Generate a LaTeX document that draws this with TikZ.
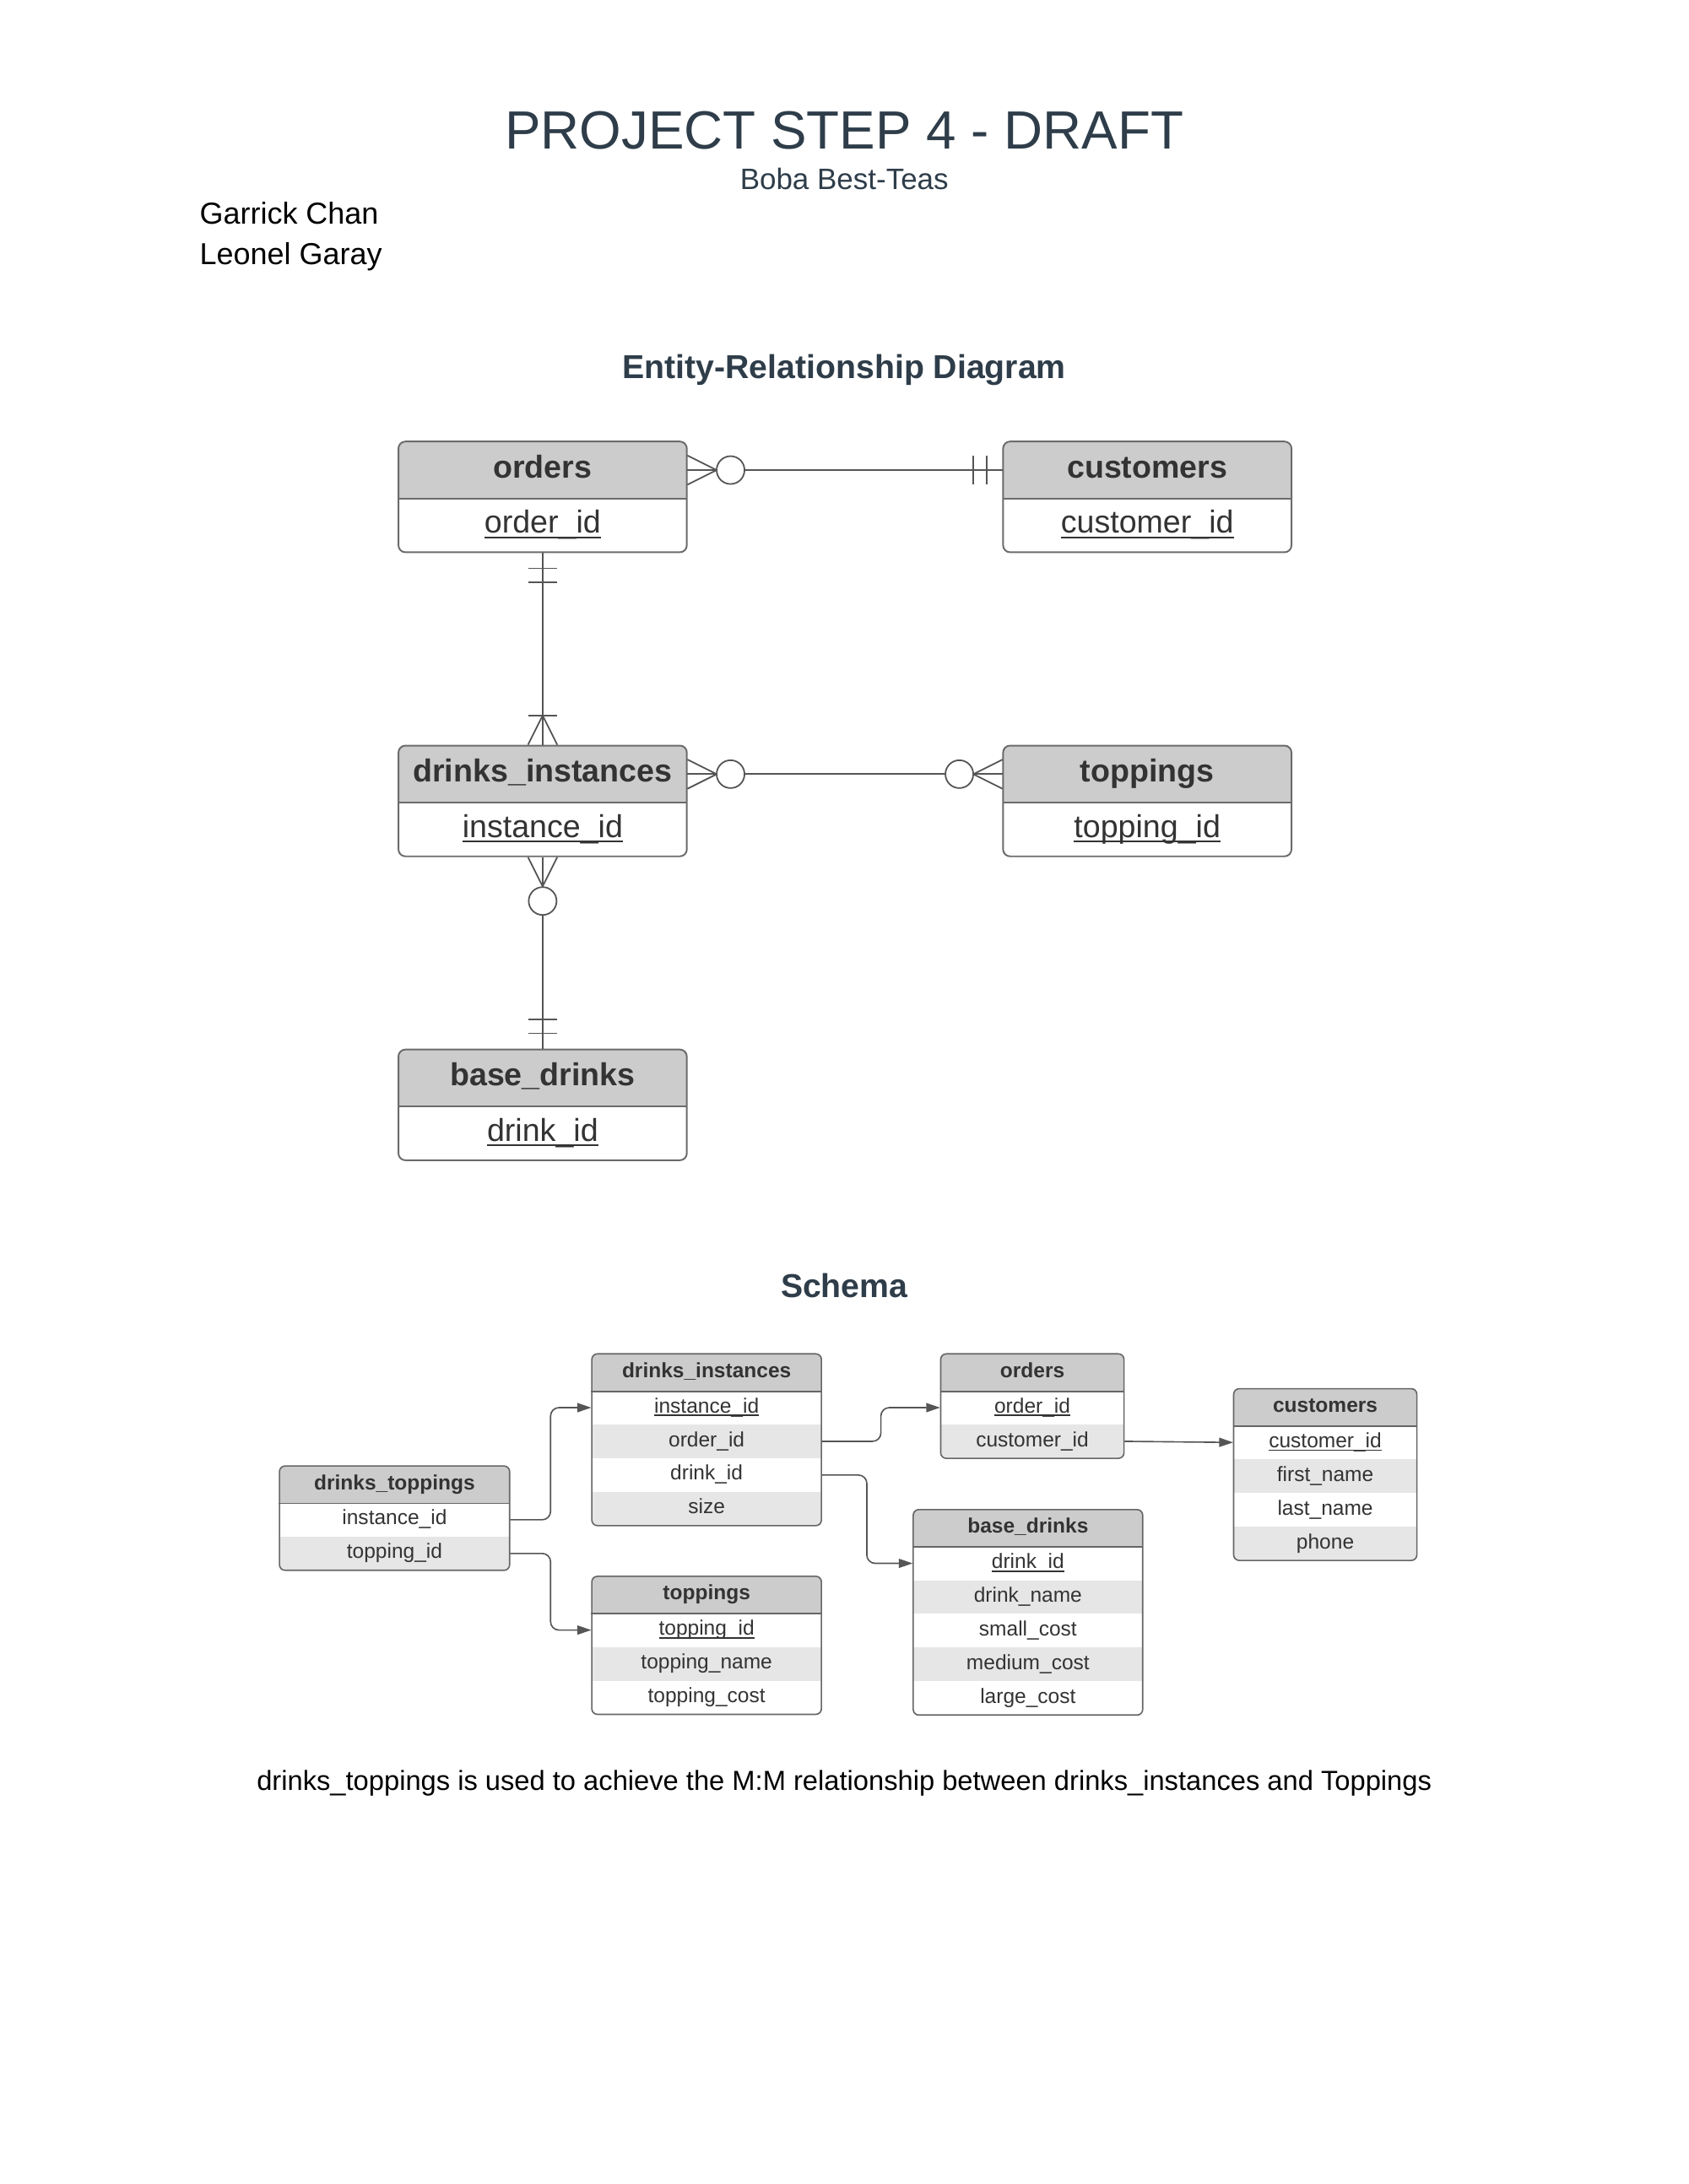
\documentclass[tikz,border=0pt]{standalone}
\usepackage{fontspec}
\setmainfont{Liberation Sans}
\usetikzlibrary{arrows.meta}
\newlength{\pxu}\setlength{\pxu}{0.50495pt}
\definecolor{titlecol}{HTML}{2E3D49}
\definecolor{hdrfill}{HTML}{CCCCCC}
\definecolor{altfill}{HTML}{E6E6E6}
\definecolor{erline}{HTML}{6B6B6B}
\definecolor{tblline}{HTML}{666666}
\definecolor{txtcol}{HTML}{333333}
\definecolor{conncol}{HTML}{555555}
\newcommand{\ulkey}[1]{\setbox0=\hbox{#1}\rlap{\raisebox{-0.16em}{\rule{\wd0}{0.065em}}}\box0}
\tikzset{
  erbox/.style={draw=erline, line width=0.6pt, rounded corners=5\pxu,
    minimum width=207\pxu, minimum height=79.5\pxu, inner sep=0pt,
    path picture={
      \fill[hdrfill, draw=none, sharp corners] (path picture bounding box.north west) rectangle ([yshift=-41\pxu]path picture bounding box.north east);
      \draw[erline, line width=0.6pt, sharp corners] ([yshift=-41\pxu]path picture bounding box.north west) -- ([yshift=-41\pxu]path picture bounding box.north east);}},
  erhead/.style={minimum width=207\pxu, minimum height=41\pxu, inner sep=0pt, text=txtcol,
    font=\fontsize{11.5}{13}\selectfont\bfseries, text height=8.6pt, text depth=2.9pt},
  erkey/.style={inner sep=0pt, text=txtcol,
    font=\fontsize{11.5}{13}\selectfont, text height=8.6pt, text depth=2.9pt},
  erconn/.style={draw=conncol, line width=0.55pt},
  trow/.style={inner sep=0pt, minimum height=24.2\pxu, text=txtcol,
    font=\fontsize{7.5}{9}\selectfont, text height=5.6pt, text depth=1.9pt},
  thead/.style={trow, minimum height=26.5\pxu, fill=hdrfill, font=\fontsize{7.5}{9}\selectfont\bfseries},
  tframe/.style={draw=tblline, line width=0.5pt, rounded corners=4\pxu},
  sarrow/.style={draw=conncol, line width=0.5pt, rounded corners=6\pxu, -{Triangle[length=5.05pt, width=3.3pt]}},
  plain/.style={inner sep=0pt}
}
\begin{document}
\begin{tikzpicture}[x=\pxu, y=-\pxu]
\fill[white] (0,0) rectangle (1212,1568);
\useasboundingbox (0,0) rectangle (1212,1568);

% ---------- titles ----------
\node[plain, anchor=base, text=titlecol, font=\fontsize{19.5}{22}\selectfont] (title) at (606,107) {PROJECT STEP 4 - DRAFT};
\node[plain, anchor=base, text=titlecol, font=\fontsize{10.7}{12}\selectfont] (subtitle) at (606,135.8) {Boba Best-Teas};
\node[plain, anchor=base west, font=\fontsize{11}{13}\selectfont] (author1) at (143,161) {Garrick Chan};
\node[plain, anchor=base west, font=\fontsize{11}{13}\selectfont] (author2) at (143,189.9) {Leonel Garay};
\node[plain, anchor=base, text=titlecol, font=\fontsize{12}{14}\selectfont\bfseries] (erheading) at (606,271.5) {Entity-Relationship Diagram};
\node[plain, anchor=base, text=titlecol, font=\fontsize{12}{14}\selectfont\bfseries] (schemaheading) at (606,931.5) {Schema};
\node[plain, anchor=base, font=\fontsize{10}{12}\selectfont] (footer) at (606,1285.5) {drinks\_toppings is used to achieve the M:M relationship between drinks\_instances and Toppings};

% ---------- ER diagram ----------
\node[erbox] (erOrders) at (389.5,356.75) {};
\node[erhead] (erOrdersH) at (389.5,337.5) {orders};
\node[erkey] (erOrdersK) at (389.5,377.25) {\ulkey{order\_id}};

\node[erbox] (erCustomers) at (823.5,356.75) {};
\node[erhead] (erCustomersH) at (823.5,337.5) {customers};
\node[erkey] (erCustomersK) at (823.5,377.25) {\ulkey{customer\_id}};

\node[erbox] (erDrinks) at (389.5,575.05) {};
\node[erhead] (erDrinksH) at (389.5,555.8) {drinks\_instances};
\node[erkey] (erDrinksK) at (389.5,595.55) {\ulkey{instance\_id}};

\node[erbox] (erToppings) at (823.5,575.05) {};
\node[erhead] (erToppingsH) at (823.5,555.8) {toppings};
\node[erkey] (erToppingsK) at (823.5,595.55) {\ulkey{topping\_id}};

\node[erbox] (erBase) at (389.5,793.25) {};
\node[erhead] (erBaseH) at (389.5,774) {base\_drinks};
\node[erkey] (erBaseK) at (389.5,813.75) {\ulkey{drink\_id}};

% orders -- customers
\draw[erconn] (erOrdersH.east) -- (erCustomersH.west);
\draw[erconn] ([yshift=10.5\pxu]erOrdersH.east) -- ([xshift=21\pxu]erOrdersH.east) -- ([yshift=-10.5\pxu]erOrdersH.east);
\draw[erconn, fill=white] ([xshift=31\pxu]erOrdersH.east) circle[radius=10\pxu];
\draw[erconn] ([xshift=-21\pxu,yshift=10.5\pxu]erCustomersH.west) -- ++(0,21);
\draw[erconn] ([xshift=-11.5\pxu,yshift=10.5\pxu]erCustomersH.west) -- ++(0,21);

% orders -- drinks_instances
\draw[erconn] (erOrders.south) -- (erDrinks.north);
\draw[erconn] ([xshift=-10.5\pxu,yshift=-11\pxu]erOrders.south) -- ++(21,0);
\draw[erconn] ([xshift=-10.5\pxu,yshift=-21\pxu]erOrders.south) -- ++(21,0);
\draw[erconn] ([xshift=-10.5\pxu]erDrinks.north) -- ([yshift=21\pxu]erDrinks.north) -- ([xshift=10.5\pxu]erDrinks.north);
\draw[erconn] ([xshift=-10.5\pxu,yshift=21\pxu]erDrinks.north) -- ++(21,0);

% drinks_instances -- toppings
\draw[erconn] (erDrinksH.east) -- (erToppingsH.west);
\draw[erconn] ([yshift=10.5\pxu]erDrinksH.east) -- ([xshift=21\pxu]erDrinksH.east) -- ([yshift=-10.5\pxu]erDrinksH.east);
\draw[erconn, fill=white] ([xshift=31\pxu]erDrinksH.east) circle[radius=10\pxu];
\draw[erconn] ([yshift=10.5\pxu]erToppingsH.west) -- ([xshift=-21\pxu]erToppingsH.west) -- ([yshift=-10.5\pxu]erToppingsH.west);
\draw[erconn, fill=white] ([xshift=-31\pxu]erToppingsH.west) circle[radius=10\pxu];

% drinks_instances -- base_drinks
\draw[erconn] (erDrinks.south) -- (erBase.north);
\draw[erconn] ([xshift=-10.5\pxu]erDrinks.south) -- ([yshift=-21\pxu]erDrinks.south) -- ([xshift=10.5\pxu]erDrinks.south);
\draw[erconn, fill=white] ([yshift=-31.5\pxu]erDrinks.south) circle[radius=10\pxu];
\draw[erconn] ([xshift=-10.5\pxu,yshift=21\pxu]erBase.north) -- ++(21,0);
\draw[erconn] ([xshift=-10.5\pxu,yshift=11\pxu]erBase.north) -- ++(21,0);

% ---------- Schema tables ----------
% drinks_toppings
\begin{scope}
\clip[rounded corners=4\pxu] (200.6,1052.5) rectangle (365.8,1127.4);
\node[thead, minimum width=165.2\pxu] (dtH) at (283.2,1065.75) {drinks\_toppings};
\node[trow, minimum width=165.2\pxu] (dtR1) at (283.2,1091.1) {instance\_id};
\node[trow, minimum width=165.2\pxu, fill=altfill] (dtR2) at (283.2,1115.3) {topping\_id};
\end{scope}
\draw[tframe] (200.6,1052.5) rectangle (365.8,1127.4);
\draw[tblline, line width=0.5pt] (dtH.south west) -- (dtH.south east);

% drinks_instances
\begin{scope}
\clip[rounded corners=4\pxu] (424.8,972) rectangle (589.6,1095.3);
\node[thead, minimum width=164.8\pxu] (diH) at (507.2,985.25) {drinks\_instances};
\node[trow, minimum width=164.8\pxu] (diR1) at (507.2,1010.6) {\ulkey{instance\_id}};
\node[trow, minimum width=164.8\pxu, fill=altfill] (diR2) at (507.2,1034.8) {order\_id};
\node[trow, minimum width=164.8\pxu] (diR3) at (507.2,1059) {drink\_id};
\node[trow, minimum width=164.8\pxu, fill=altfill] (diR4) at (507.2,1083.2) {size};
\end{scope}
\draw[tframe] (424.8,972) rectangle (589.6,1095.3);
\draw[tblline, line width=0.5pt] (diH.south west) -- (diH.south east);

% orders
\begin{scope}
\clip[rounded corners=4\pxu] (675.2,972) rectangle (806.8,1047);
\node[thead, minimum width=131.6\pxu] (orH) at (741,985.25) {orders};
\node[trow, minimum width=131.6\pxu] (orR1) at (741,1010.6) {\ulkey{order\_id}};
\node[trow, minimum width=131.6\pxu, fill=altfill] (orR2) at (741,1034.8) {customer\_id};
\end{scope}
\draw[tframe] (675.2,972) rectangle (806.8,1047);
\draw[tblline, line width=0.5pt] (orH.south west) -- (orH.south east);

% customers
\begin{scope}
\clip[rounded corners=4\pxu] (885.5,997) rectangle (1017,1120.3);
\node[thead, minimum width=131.5\pxu] (cuH) at (951.25,1010.25) {customers};
\node[trow, minimum width=131.5\pxu] (cuR1) at (951.25,1035.6) {\ulkey{customer\_id}};
\node[trow, minimum width=131.5\pxu, fill=altfill] (cuR2) at (951.25,1059.8) {first\_name};
\node[trow, minimum width=131.5\pxu] (cuR3) at (951.25,1084) {last\_name};
\node[trow, minimum width=131.5\pxu, fill=altfill] (cuR4) at (951.25,1108.2) {phone};
\end{scope}
\draw[tframe] (885.5,997) rectangle (1017,1120.3);
\draw[tblline, line width=0.5pt] (cuH.south west) -- (cuH.south east);

% base_drinks
\begin{scope}
\clip[rounded corners=4\pxu] (655.5,1083.8) rectangle (820.2,1231.3);
\node[thead, minimum width=164.7\pxu] (bdH) at (737.85,1097.05) {base\_drinks};
\node[trow, minimum width=164.7\pxu] (bdR1) at (737.85,1122.4) {\ulkey{drink\_id}};
\node[trow, minimum width=164.7\pxu, fill=altfill] (bdR2) at (737.85,1146.6) {drink\_name};
\node[trow, minimum width=164.7\pxu] (bdR3) at (737.85,1170.8) {small\_cost};
\node[trow, minimum width=164.7\pxu, fill=altfill] (bdR4) at (737.85,1195) {medium\_cost};
\node[trow, minimum width=164.7\pxu] (bdR5) at (737.85,1219.2) {large\_cost};
\end{scope}
\draw[tframe] (655.5,1083.8) rectangle (820.2,1231.3);
\draw[tblline, line width=0.5pt] (bdH.south west) -- (bdH.south east);

% toppings
\begin{scope}
\clip[rounded corners=4\pxu] (424.8,1131.7) rectangle (589.6,1230.8);
\node[thead, minimum width=164.8\pxu] (toH) at (507.2,1144.95) {toppings};
\node[trow, minimum width=164.8\pxu] (toR1) at (507.2,1170.3) {\ulkey{topping\_id}};
\node[trow, minimum width=164.8\pxu, fill=altfill] (toR2) at (507.2,1194.5) {topping\_name};
\node[trow, minimum width=164.8\pxu] (toR3) at (507.2,1218.7) {topping\_cost};
\end{scope}
\draw[tframe] (424.8,1131.7) rectangle (589.6,1230.8);
\draw[tblline, line width=0.5pt] (toH.south west) -- (toH.south east);

% ---------- Schema arrows ----------
\draw[sarrow] (dtR1.east) -- ++(29,0) |- (diR1.west);
\draw[sarrow] (dtR2.east) -- ++(29,0) |- (toR1.west);
\draw[sarrow] (diR2.east) -- ++(42.3,0) |- (orR1.west);
\draw[sarrow] (diR3.east) -- ++(32.2,0) |- (bdR1.west);
\draw[sarrow] (orR2.east) -- (cuR1.west);
\end{tikzpicture}
\end{document}
